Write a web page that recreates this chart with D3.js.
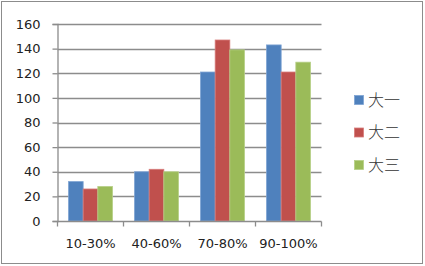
<!DOCTYPE html>
<html><head><meta charset="utf-8">
<script src="https://cdn.jsdelivr.net/npm/d3@7"></script>
<style>html,body{margin:0;padding:0;background:#fff;}svg{display:block;}</style>
</head><body>
<script>
const categories = ["10-30%", "40-60%", "70-80%", "90-100%"];
const seriesNames = ["大一", "大二", "大三"];
const seriesDa1 = [32, 40, 121, 143];
const seriesDa2 = [26, 42, 147, 121];
const seriesDa3 = [28, 40, 139, 129];
const yTicks = [0, 20, 40, 60, 80, 100, 120, 140, 160];
const colors = ["#4F81BD", "#C0504D", "#9BBB59"];
const strokes = ["#7ea3d3", "#d77c7a", "#b6cf86"];

(function () {
const series = [seriesDa1, seriesDa2, seriesDa3];
const W = 425, H = 266;
const svg = d3.select("body").append("svg").attr("width", W).attr("height", H);
svg.append("rect").attr("x", 1.5).attr("y", 1.5).attr("width", 421).attr("height", 262)
  .attr("fill", "#fff").attr("stroke", "#8c8c8c").attr("stroke-width", 1);

const pLeft = 57.5, pRight = 321.5, pTop = 24, pBottom = 221;
const x = d3.scaleBand().domain(categories).range([pLeft, pRight]).paddingInner(1/3).paddingOuter(1/6);
const xs = d3.scaleBand().domain(d3.range(series.length)).range([0, x.bandwidth()]);
const y = d3.scaleLinear().domain([0, 160]).range([pBottom, pTop]);

// gridlines
svg.append("g").selectAll("line").data(yTicks.filter(d => d > 0)).join("line")
  .attr("x1", pLeft).attr("x2", pRight)
  .attr("y1", d => Math.round(y(d)) + 0.5).attr("y2", d => Math.round(y(d)) + 0.5)
  .attr("stroke", "#8c8c8c").attr("stroke-width", 1.3);

// bars
series.forEach((vals, si) => {
  svg.append("g").selectAll("rect").data(vals).join("rect")
    .attr("x", (d, i) => x(categories[i]) + xs(si))
    .attr("y", d => y(d))
    .attr("width", xs.bandwidth())
    .attr("height", d => y(0) - y(d))
    .attr("fill", colors[si])
    .attr("stroke", strokes[si]).attr("stroke-width", 0.8);
});

// y axis
const yAxis = d3.axisLeft(y).tickValues(yTicks).tickSize(5).tickPadding(12).tickFormat(d3.format("d"));
const gy = svg.append("g").attr("transform", `translate(${pLeft},0)`).call(yAxis);
gy.select(".domain").attr("stroke", "#8c8c8c").attr("stroke-width", 1.3);
gy.selectAll(".tick line").attr("stroke", "#8c8c8c").attr("stroke-width", 1.3);
gy.selectAll(".tick text").attr("font-family", "DejaVu Sans").attr("font-size", 13).attr("fill", "#222");

// x axis
const gx = svg.append("g").attr("transform", `translate(0,${Math.round(pBottom)+0.5})`);
gx.append("line").attr("x1", pLeft).attr("x2", pRight).attr("stroke", "#8c8c8c").attr("stroke-width", 1.3);
const bounds = [pLeft].concat(categories.map(c => x(c) + x.bandwidth() + x.step() * x.paddingInner() / 2));
bounds[bounds.length - 1] = pRight;
gx.selectAll("line.tk").data(bounds).join("line").attr("class", "tk")
  .attr("x1", d => d).attr("x2", d => d).attr("y1", 0).attr("y2", 5)
  .attr("stroke", "#8c8c8c").attr("stroke-width", 1.3);
gx.selectAll("text").data(categories).join("text")
  .attr("x", d => x(d) + x.bandwidth() / 2).attr("y", 26)
  .attr("text-anchor", "middle")
  .attr("font-family", "DejaVu Sans").attr("font-size", 13).attr("fill", "#222")
  .text(d => d);

// legend
const lg = svg.append("g");
seriesNames.forEach((n, i) => {
  const cy = 100 + i * 32.5;
  lg.append("rect").attr("x", 354.5).attr("y", cy - 4.5).attr("width", 9).attr("height", 9)
    .attr("fill", colors[i]).attr("stroke", strokes[i]).attr("stroke-width", 0.8);
  lg.append("text").attr("x", 368).attr("y", cy + 5.5)
    .attr("font-family", "Noto Sans CJK SC").attr("font-size", 16).attr("font-weight", 300).attr("fill", "#333")
    .text(n);
});
})();
</script>
</body></html>
